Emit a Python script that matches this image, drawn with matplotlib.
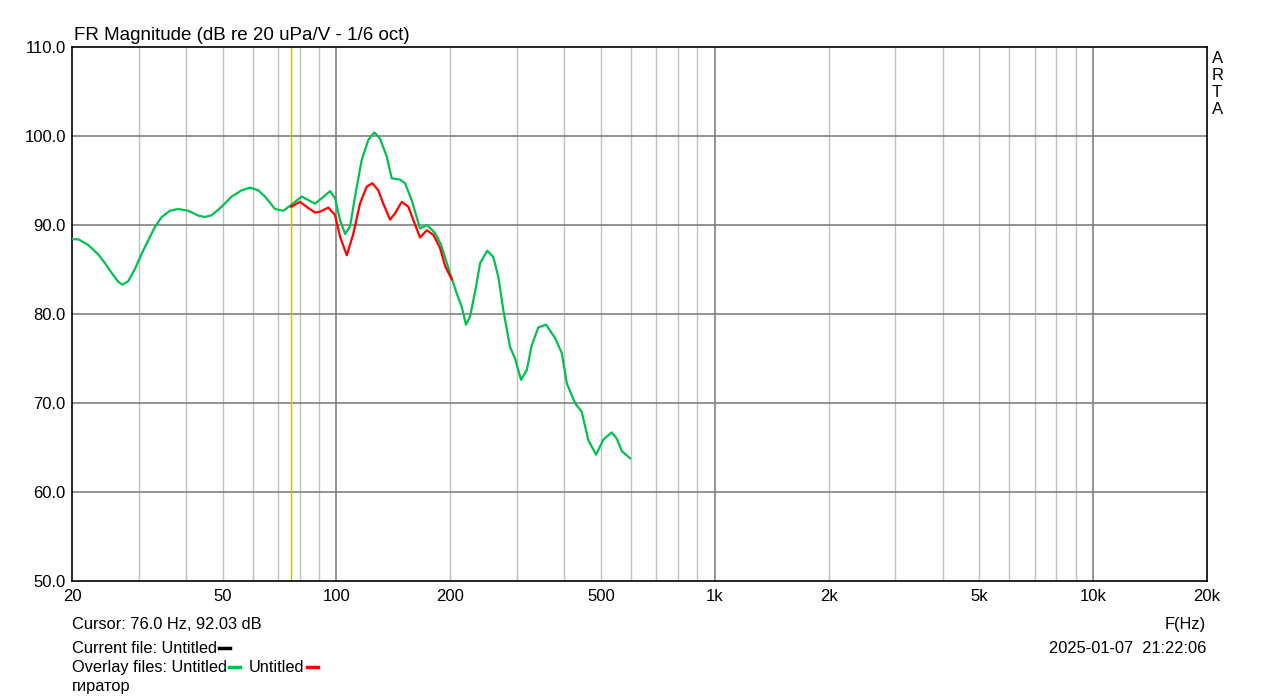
import matplotlib
matplotlib.use("Agg")
import matplotlib.pyplot as plt
from matplotlib.lines import Line2D

plt.rcParams['font.family'] = ['Liberation Sans', 'DejaVu Sans']

# Overlay 1 (green)
green_f = [20.0, 20.78, 22.09, 23.46, 24.46, 25.47, 26.52, 27.18, 28.19, 29.36, 30.58,
           31.84, 33.15, 34.53, 36.31, 38.19, 40.59, 43.15, 44.94, 46.81, 49.74, 52.86,
           56.18, 59.09, 62.14, 64.73, 68.8, 72.4, 75.9, 81.0, 85.1, 87.8, 91.4, 96.2,
           99.2, 102.2, 105.4, 108.6, 112.0, 116.6, 121.4, 125.9, 130.4, 135.8, 140.0,
           147.2, 151.8, 158.1, 166.3, 173.3, 182.3, 188.9, 199.6, 208.0, 214.4, 220.0,
           225.5, 232.5, 239.7, 250.4, 259.8, 267.8, 276.1, 287.6, 296.6, 307.6, 318.5,
           328.3, 341.8, 358.2, 378.4, 394.2, 406.4, 427.2, 445.0, 463.4, 485.6, 507.6,
           534.2, 550.8, 567.8, 597.0]
green_db = [88.4, 88.4, 87.75, 86.7, 85.7, 84.6, 83.6, 83.3, 83.7, 85.1, 86.8,
            88.3, 89.8, 90.9, 91.6, 91.8, 91.6, 91.05, 90.9, 91.1, 92.05, 93.2,
            93.9, 94.2, 93.9, 93.2, 91.8, 91.6, 92.25, 93.2, 92.7, 92.4, 93.0, 93.8,
            93.0, 90.55, 89.0, 89.8, 93.2, 97.3, 99.55, 100.4, 99.7, 97.7, 95.25,
            95.1, 94.7, 92.8, 89.6, 90.0, 89.1, 87.8, 84.6, 82.3, 80.8, 78.8,
            79.7, 82.5, 85.7, 87.1, 86.4, 84.2, 80.45, 76.3, 75.0, 72.6, 73.7,
            76.5, 78.5, 78.8, 77.3, 75.6, 72.2, 70.0, 69.0, 65.8, 64.2, 65.9,
            66.7, 66.0, 64.6, 63.8]

# Overlay 2 (red, "гиратор")
red_f = [75.9, 80.1, 84.3, 87.8, 90.5, 95.2, 99.2, 102.2, 106.5, 110.8, 115.4, 120.2,
         124.4, 129.0, 133.0, 138.6, 142.8, 148.8, 154.9, 159.7, 166.3, 173.3, 180.4,
         187.9, 193.7, 201.7]
red_db = [92.05, 92.6, 91.9, 91.4, 91.5, 91.95, 91.1, 88.7, 86.6, 89.0, 92.4, 94.3,
          94.7, 93.9, 92.4, 90.6, 91.3, 92.6, 92.05, 90.55, 88.6, 89.4, 88.9,
          87.4, 85.4, 83.9]

xticks = [20, 50, 100, 200, 500, 1000, 2000, 5000, 10000, 20000]
xtick_labels = ['20', '50', '100', '200', '500', '1k', '2k', '5k', '10k', '20k']
yticks = [50, 60, 70, 80, 90, 100, 110]
cursor_f = 76.0

GREEN = '#00c050'
RED = '#ff0000'

W, H = 1279, 699
fig = plt.figure(figsize=(W / 100, H / 100), dpi=100)
L, R, T, B = 72, 1207, 47, 581
ax = fig.add_axes([L / W, 1 - B / H, (R - L) / W, (B - T) / H])
ax.set_xscale('log')
ax.set_xlim(20, 20000)
ax.set_ylim(50, 110)

# grid
minor = []
for dec in [10, 100, 1000, 10000]:
    for m in range(2, 10):
        v = dec * m
        if 20 < v < 20000:
            minor.append(v)
for v in minor:
    ax.axvline(v, color='#c0c0c0', lw=1.0, zorder=1)
for v in [100, 1000, 10000]:
    ax.axvline(v, color='#808080', lw=1.2, zorder=1)
for v in yticks[1:-1]:
    ax.axhline(v, color='#808080', lw=1.2, zorder=1)
ax.axvline(cursor_f, color='#c8c000', lw=1.0, zorder=2)

ax.plot(green_f, green_db, color=GREEN, lw=1.6, zorder=3, solid_joinstyle='round')
ax.plot(red_f, red_db, color=RED, lw=1.6, zorder=4, solid_joinstyle='round')

ax.set_xticks(xticks)
ax.set_xticklabels(xtick_labels)
ax.xaxis.set_minor_locator(matplotlib.ticker.NullLocator())
ax.set_yticks(yticks)
ax.set_yticklabels([f'{v:.1f}' for v in yticks])
ax.tick_params(axis='x', length=0, labelsize=12, pad=6)
ax.tick_params(axis='y', length=0, labelsize=12, pad=4.5)
for s in ax.spines.values():
    s.set_linewidth(1.2)
    s.set_color('black')

def fx(px):
    return px / W

def fy(py):
    return 1 - py / H

fs = 11.8
VA = 'center_baseline'
fig.text(fx(74), fy(33), 'FR Magnitude (dB re 20 uPa/V - 1/6 oct)', fontsize=13.5, va=VA, ha='left')
for i, ch in enumerate('ARTA'):
    fig.text(fx(1212), fy(57 + i * 17), ch, fontsize=12, va=VA, ha='left')

fig.text(fx(72), fy(623), 'Cursor: 76.0 Hz, 92.03 dB', fontsize=fs, va=VA, ha='left')
t1 = fig.text(fx(72), fy(647), 'Current file: Untitled', fontsize=fs, va=VA, ha='left')
t2 = fig.text(fx(72), fy(666), 'Overlay files: Untitled', fontsize=fs, va=VA, ha='left')
fig.text(fx(72), fy(685), 'гиратор', fontsize=fs, va=VA, ha='left')
fig.text(fx(1206), fy(623), 'F(Hz)', fontsize=fs, va=VA, ha='right')
fig.text(fx(1206), fy(647), '2025-01-07  21:22:06', fontsize=fs, va=VA, ha='right')

fig.canvas.draw()
r = fig.canvas.get_renderer()

def add_dash(x0, ypx, color):
    fig.add_artist(Line2D([fx(x0 + 2), fx(x0 + 13)], [fy(ypx + 1), fy(ypx + 1)],
                          color=color, lw=2.5, transform=fig.transFigure))

e1 = t1.get_window_extent(r)
add_dash(e1.x1, 647, 'black')
e2 = t2.get_window_extent(r)
add_dash(e2.x1, 666, GREEN)
t3x = e2.x1 + 22
t3 = fig.text(fx(t3x), fy(666), 'Untitled', fontsize=fs, va=VA, ha='left')
fig.canvas.draw()
e3 = t3.get_window_extent(r)
add_dash(e3.x1, 666, RED)

fig.savefig('out.png', dpi=100)
